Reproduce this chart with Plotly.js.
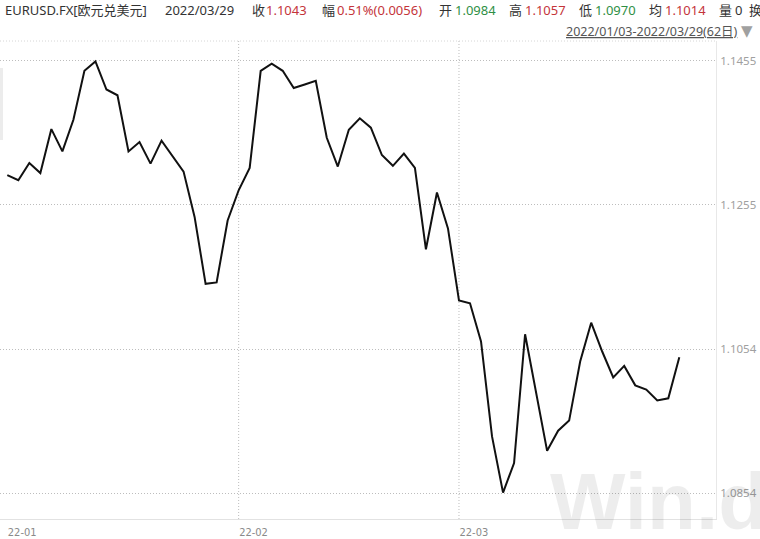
<!DOCTYPE html>
<html><head><meta charset="utf-8">
<script src="https://cdn.plot.ly/plotly-3.0.1.min.js"></script>
<style>html,body{margin:0;padding:0;background:#fff}#chart{width:760px;height:539px}</style>
</head><body><div id="chart"></div>
<script>
// ---- data ----
const dates = [
 '2022-01-03','2022-01-04','2022-01-05','2022-01-06','2022-01-07','2022-01-10','2022-01-11','2022-01-12','2022-01-13','2022-01-14',
 '2022-01-17','2022-01-18','2022-01-19','2022-01-20','2022-01-21','2022-01-24','2022-01-25','2022-01-26','2022-01-27','2022-01-28','2022-01-31',
 '2022-02-01','2022-02-02','2022-02-03','2022-02-04','2022-02-07','2022-02-08','2022-02-09','2022-02-10','2022-02-11','2022-02-14',
 '2022-02-15','2022-02-16','2022-02-17','2022-02-18','2022-02-21','2022-02-22','2022-02-23','2022-02-24','2022-02-25','2022-02-28',
 '2022-03-01','2022-03-02','2022-03-03','2022-03-04','2022-03-07','2022-03-08','2022-03-09','2022-03-10','2022-03-11','2022-03-14',
 '2022-03-15','2022-03-16','2022-03-17','2022-03-18','2022-03-21','2022-03-22','2022-03-23','2022-03-24','2022-03-25','2022-03-28','2022-03-29'
];
const closes = [
 1.1296,1.1289,1.1313,1.1299,1.1360,1.1329,1.1373,1.1441,1.1454,1.1415,
 1.1407,1.1329,1.1342,1.1312,1.1344,1.1323,1.1301,1.1238,1.1145,1.1147,1.1233,
 1.1275,1.1306,1.1441,1.1451,1.1441,1.1417,1.1422,1.1427,1.1348,1.1308,
 1.1359,1.1375,1.1362,1.1324,1.1309,1.1326,1.1306,1.1193,1.1272,1.1222,
 1.1122,1.1118,1.1065,1.0933,1.0855,1.0896,1.1075,1.0994,1.0913,1.0941,
 1.0955,1.1037,1.1091,1.1051,1.1015,1.1031,1.1004,1.0998,1.0983,1.0986,1.1043
];
const yTickVals = [1.1455, 1.1255, 1.1054, 1.0854];
const yTickText = ['1.1455', '1.1255', '1.1054', '1.0854'];
const xTickVals = ['2022-01-03', '2022-02-01', '2022-03-01'];
const xTickText = ['22-01', '22-02', '22-03'];
const monthStarts = ['2022-02-01', '2022-03-01'];
const securityName = 'EURUSD.FX[欧元兑美元]';
const quoteDate = '2022/03/29';
const headerLabels = ['收', '幅', '开', '高', '低', '均', '量', '换'];
const headerValues = ['1.1043', '0.51%(0.0056)', '1.0984', '1.1057', '1.0970', '1.1014', '0', ''];
const headerValueKinds = ['up', 'up', 'down', 'up', 'down', 'up', 'plain', 'plain'];
const rangeText = '2022/01/03-2022/03/29(62日)';
const watermark = 'Win.d';

// ---- layout helpers ----
const W = 760, H = 539, ML = 0, MR = 44, MT = 41, MB = 20;
const PW = W - ML - MR, PH = H - MT - MB;
const px = x => (x - ML) / PW;
const py = y => (H - MB - y) / PH;
const HFONT = 'Noto Sans, Noto Sans CJK SC, sans-serif';
const colorOf = {up: '#c4343a', down: '#2f8f45', plain: '#333333'};

const labelX = [250, 320, 437, 507, 577, 647, 717, 747];
const valueX = [264, 335, 453, 523, 593, 663, 733, 765];

const annotations = [];
annotations.push({xref:'paper', yref:'paper', x:px(3), y:py(10), xanchor:'left', yanchor:'middle',
  text:securityName, showarrow:false, font:{family:HFONT, size:13, color:'#333'}});
annotations.push({xref:'paper', yref:'paper', x:px(163), y:py(10), xanchor:'left', yanchor:'middle',
  text:quoteDate, showarrow:false, font:{family:HFONT, size:13, color:'#333'}});
headerLabels.forEach((t, i) => {
  annotations.push({xref:'paper', yref:'paper', x:px(labelX[i]), y:py(10), xanchor:'left', yanchor:'middle',
    text:t, showarrow:false, font:{family:HFONT, size:13, color:'#333'}});
  if (headerValues[i]) annotations.push({xref:'paper', yref:'paper', x:px(valueX[i]), y:py(10), xanchor:'left', yanchor:'middle',
    text:headerValues[i], showarrow:false, font:{family:HFONT, size:13, color:colorOf[headerValueKinds[i]]}});
});
annotations.push({xref:'paper', yref:'paper', x:px(740), y:py(31), xanchor:'right', yanchor:'middle',
  text:'<u>' + rangeText + '</u>', showarrow:false, font:{family:HFONT, size:12.5, color:'#555'}});
annotations.push({xref:'paper', yref:'paper', x:px(739), y:py(31), xanchor:'left', yanchor:'middle',
  text:'▼', showarrow:false, font:{family:'DejaVu Sans', size:15, color:'#a0a0a0'}});
annotations.push({xref:'paper', yref:'paper', x:px(548), y:py(501), xanchor:'left', yanchor:'middle',
  text:'<b>' + watermark + '</b>', showarrow:false, font:{family:'Liberation Sans, Arial, sans-serif', size:80, color:'rgba(0,0,0,0.07)'}});

const shapes = monthStarts.map(d => ({type:'line', xref:'x', yref:'paper', x0:d, x1:d, y0:0, y1:1,
  line:{color:'#bdbdbd', width:1, dash:'1px,2px'}, layer:'below'}));
shapes.push({type:'line', xref:'paper', yref:'paper', x0:0, x1:1, y0:1, y1:1,
  line:{color:'#d6d6d6', width:1, dash:'1px,2px'}, layer:'below'});
shapes.push({type:'rect', xref:'paper', yref:'paper', x0:0, x1:px(3), y0:py(140), y1:py(68),
  line:{width:0}, fillcolor:'#ececec', layer:'below'});

const trace = {type:'scatter', mode:'lines', x:dates, y:closes,
  line:{color:'#111', width:2}, hoverinfo:'skip'};

const layout = {
  width:W, height:H, margin:{l:ML, r:MR, t:MT, b:MB, pad:0},
  paper_bgcolor:'#fff', plot_bgcolor:'#fff', showlegend:false,
  xaxis:{type:'category', range:[-0.663, 64.33], tickmode:'array', tickvals:xTickVals, ticktext:xTickText,
    showgrid:false, zeroline:false, showline:true, linecolor:'#e2e2e2', linewidth:1, ticks:'',
    ticklabelposition:'outside right', tickangle:0, ticklabelstandoff:3,
    tickfont:{family:'Liberation Sans Narrow, DejaVu Sans Condensed, sans-serif', size:11, color:'#8a8a8a'}},
  yaxis:{side:'right', range:[1.08183, 1.14824], tickmode:'array', tickvals:yTickVals, ticktext:yTickText,
    showgrid:true, gridcolor:'#bdbdbd', griddash:'1px,2px', gridwidth:1, zeroline:false,
    showline:true, linecolor:'#e8e8e8', linewidth:1, ticks:'', ticklabelstandoff:1,
    tickfont:{family:'Noto Sans, sans-serif', size:11.5, color:'#a0a0a0'}},
  annotations:annotations, shapes:shapes
};
Plotly.newPlot('chart', [trace], layout, {staticPlot:true, displayModeBar:false});
</script>
</body></html>
